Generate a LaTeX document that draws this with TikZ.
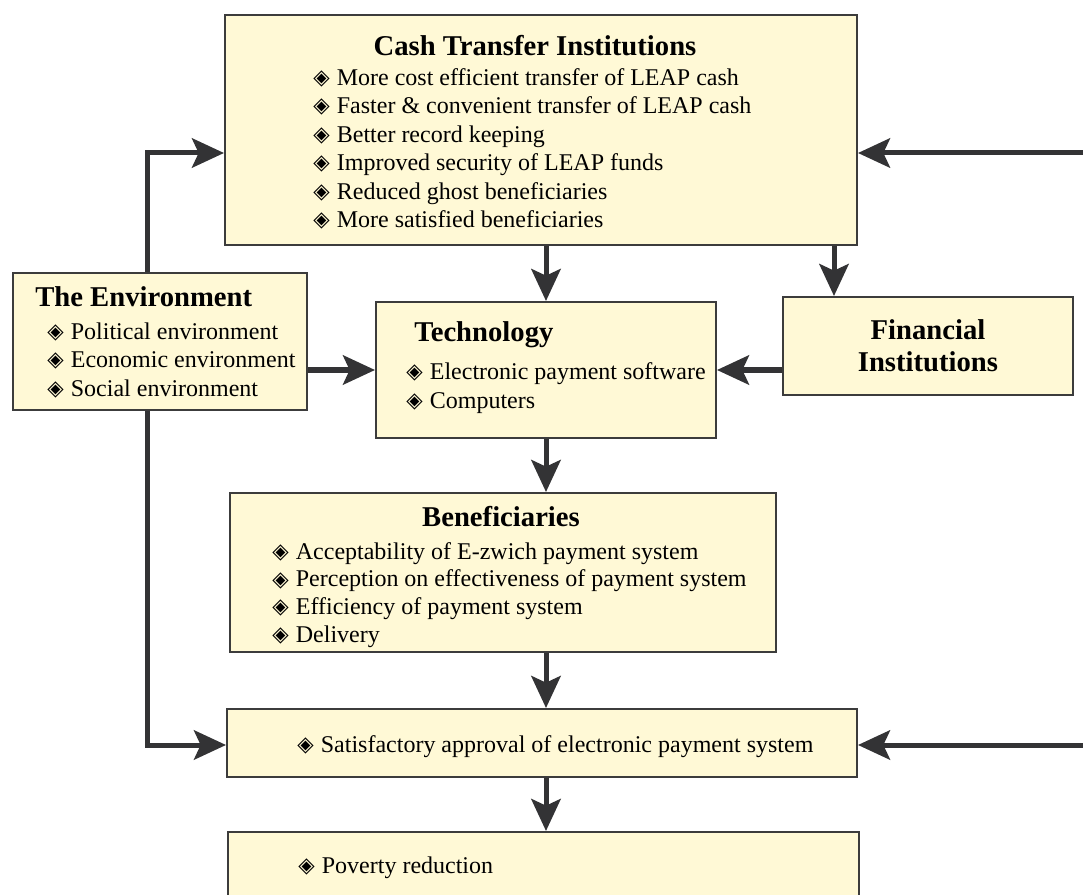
\documentclass[tikz,border=0pt]{standalone}
\usepackage{fontspec}
\setmainfont{Liberation Serif}
\newfontfamily\symfont{DejaVu Sans}
\usetikzlibrary{arrows.meta}

\definecolor{boxfill}{RGB}{255,249,214}
\definecolor{boxline}{RGB}{60,60,60}
\definecolor{arrline}{RGB}{51,51,53}

\newcommand{\itm}{\raisebox{0.5pt}{\symfont\fontsize{16}{16}\selectfont ◈}\hspace{0.3em}}

\tikzset{
  box/.style={draw=boxline, fill=boxfill, line width=1.5pt, inner sep=0pt},
  ttl/.style={font=\fontsize{21.5}{24}\selectfont\bfseries, inner sep=0pt, anchor=mid},
  item/.style={font=\fontsize{18}{22}\selectfont, inner sep=0pt, anchor=mid west},
  arr/.style={draw=arrline, line width=3.75pt,
    -{Stealth[length=24pt,width=22pt,inset=5pt]}}
}

\begin{document}
\begin{tikzpicture}[x=0.75pt, y=-0.75pt]
  % page frame (bottom box runs off the page)
  \clip (0,0) rectangle (1083,895);

  % boxes
  \node[box, minimum width=474pt, minimum height=172.5pt] (cash) at (541,130) {};
  \node[box, minimum width=220.5pt, minimum height=102.75pt] (env) at (160,341.5) {};
  \node[box, minimum width=255pt, minimum height=102pt] (tech) at (546,370) {};
  \node[box, minimum width=217.5pt, minimum height=73.5pt, align=center,
        font=\fontsize{21.5}{24}\selectfont\bfseries] (fin) at (928,346) {Financial\\Institutions};
  \node[box, minimum width=409.5pt, minimum height=119.25pt] (ben) at (503,572.5) {};
  \node[box, minimum width=472.5pt, minimum height=51pt] (sat) at (542,743) {};
  \node[box, minimum width=473.25pt, minimum height=60pt] (pov) at (543.5,872) {};

  % titles
  \node[ttl] (cashttl) at (535,52) {Cash Transfer Institutions};
  \node[ttl, anchor=mid west] (envttl) at (35,303) {The Environment};
  \node[ttl, anchor=mid west] (techttl) at (414,338) {Technology};
  \node[ttl] (benttl) at (501,523) {Beneficiaries};

  % item lists
  \foreach \t [count=\i] in {More cost efficient transfer of LEAP cash,
      Faster \& convenient transfer of LEAP cash, Better record keeping,
      Improved security of LEAP funds, Reduced ghost beneficiaries,
      More satisfied beneficiaries}
    \node[item] (cash\i) at (313,{82+28.5*(\i-1)}) {\itm\t};
  \foreach \t [count=\i] in {Political environment, Economic environment,
      Social environment}
    \node[item] (env\i) at (47,{336+28.5*(\i-1)}) {\itm\t};
  \foreach \t [count=\i] in {Electronic payment software, Computers}
    \node[item] (tech\i) at (406,{376+29*(\i-1)}) {\itm\t};
  \foreach \t [count=\i] in {Acceptability of E-zwich payment system,
      Perception on effectiveness of payment system,
      Efficiency of payment system, Delivery}
    \node[item] (ben\i) at (272,{556+27.7*(\i-1)}) {\itm\t};
  \node[item] (sat1) at (297,749) {\itm Satisfactory approval of electronic payment system};
  \node[item] (pov1) at (298,870) {\itm Poverty reduction};

  % helper points for the outer loops
  \coordinate (envup) at (147,153);
  \coordinate (envdn) at (147,745);
  \coordinate (rtop) at (1090,153);
  \coordinate (rbot) at (1090,745);
  \path (fin.north west) ++(52,0) coordinate (finin);

  % connectors
  \draw[arr] (cash.south -| tech.north) -- (tech.north);
  \draw[arr] (cash.south -| finin) -- (finin);
  \draw[arr] (env.east |- tech.west) -- (tech.west);
  \draw[arr] (fin.west |- tech.east) -- (tech.east);
  \draw[arr] (tech.south) -- (tech.south |- ben.north);
  \draw[arr] (ben.south -| tech.south) -- (sat.north -| tech.south);
  \draw[arr] (sat.south -| tech.south) -- (pov.north -| tech.south);
  \draw[arr] (env.north -| envup) |- (cash.west |- envup);
  \draw[arr] (env.south -| envdn) |- (sat.west |- envdn);
  \draw[arr] (rtop) -- (cash.east |- rtop);
  \draw[arr] (rbot) -- (sat.east |- rbot);
\end{tikzpicture}
\end{document}
